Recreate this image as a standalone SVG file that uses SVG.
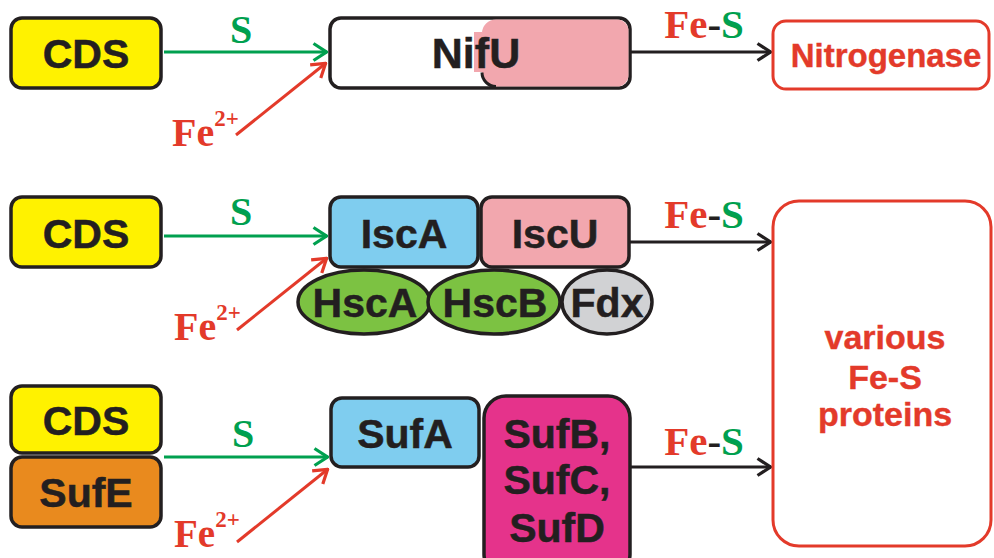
<svg xmlns="http://www.w3.org/2000/svg" width="994" height="558" viewBox="0 0 994 558">
<defs>
<style>
.box{stroke:#231f20;stroke-width:3.5}
.t{font-family:"Liberation Sans",Arial,sans-serif;font-weight:bold;fill:#231f20;stroke:#231f20;stroke-width:0.5;text-anchor:middle}
.rt{font-family:"Liberation Sans",Arial,sans-serif;font-weight:bold;fill:#e33a2a;stroke:#e33a2a;stroke-width:0.4;text-anchor:middle}
.lab{font-family:"Liberation Serif","Times New Roman",serif;font-weight:bold}
.g{fill:#00a04f}.r{fill:#e33a2a}.k{fill:#231f20}
.cg{stroke:#00a04f;stroke-width:3;fill:none}
.cr{stroke:#e33a2a;stroke-width:3;fill:none}
.ck{stroke:#231f20;stroke-width:3;fill:none}
</style>
<marker id="ag" viewBox="0 0 16 20" refX="15" refY="10" markerWidth="16" markerHeight="20" markerUnits="userSpaceOnUse" orient="auto"><path d="M1.5,1.5 L14.5,10 L1.5,18.5" fill="none" stroke="#00a04f" stroke-width="3.2"/></marker>
<marker id="ar" viewBox="0 0 16 20" refX="15" refY="10" markerWidth="16" markerHeight="20" markerUnits="userSpaceOnUse" orient="auto"><path d="M1.5,1.5 L14.5,10 L1.5,18.5" fill="none" stroke="#e33a2a" stroke-width="3.2"/></marker>
<marker id="ak" viewBox="0 0 16 20" refX="15" refY="10" markerWidth="16" markerHeight="20" markerUnits="userSpaceOnUse" orient="auto"><path d="M1.5,1.5 L14.5,10 L1.5,18.5" fill="none" stroke="#231f20" stroke-width="3.2"/></marker>
</defs>
<rect width="994" height="558" fill="#fff"/>

<g id="connectors">
<line class="cg" x1="164" y1="52" x2="327" y2="52" marker-end="url(#ag)"/>
<line class="cr" x1="236" y1="135" x2="326" y2="63" marker-end="url(#ar)"/>
<line class="ck" x1="630" y1="52" x2="771" y2="52" marker-end="url(#ak)"/>
<line class="cg" x1="164" y1="236" x2="327" y2="236" marker-end="url(#ag)"/>
<line class="cr" x1="237" y1="330" x2="327" y2="258" marker-end="url(#ar)"/>
<line class="ck" x1="630" y1="242" x2="771" y2="242" marker-end="url(#ak)"/>
<line class="cg" x1="164" y1="457" x2="328" y2="457" marker-end="url(#ag)"/>
<line class="cr" x1="237" y1="542" x2="328" y2="469" marker-end="url(#ar)"/>
<line class="ck" x1="630" y1="467" x2="771" y2="467" marker-end="url(#ak)"/>
</g>

<g id="labels">
<text class="lab g" x="241" y="43" font-size="40" text-anchor="middle">S</text>
<text class="lab r" x="172" y="146" font-size="40">Fe<tspan font-size="23" dy="-20">2+</tspan></text>
<text class="lab" x="704" y="38" font-size="41" text-anchor="middle"><tspan class="r">Fe</tspan><tspan class="k">-</tspan><tspan class="g">S</tspan></text>
<text class="lab g" x="241" y="225" font-size="40" text-anchor="middle">S</text>
<text class="lab r" x="174" y="340" font-size="40">Fe<tspan font-size="23" dy="-20">2+</tspan></text>
<text class="lab" x="704" y="228" font-size="41" text-anchor="middle"><tspan class="r">Fe</tspan><tspan class="k">-</tspan><tspan class="g">S</tspan></text>
<text class="lab g" x="243" y="447" font-size="40" text-anchor="middle">S</text>
<text class="lab r" x="174" y="547" font-size="39">Fe<tspan font-size="23" dy="-20">2+</tspan></text>
<text class="lab" x="704" y="455" font-size="41" text-anchor="middle"><tspan class="r">Fe</tspan><tspan class="k">-</tspan><tspan class="g">S</tspan></text>
</g>

<g id="cds1"><rect class="box" x="11" y="18" width="150" height="70" rx="11" fill="#fff200"/><text class="t" x="86" y="68" font-size="41">CDS</text></g>
<g id="nifu">
<rect class="box" x="330" y="18" width="300" height="70" rx="11" fill="#fff"/>
<path d="M496,19.5 H617 a11.5,11.5 0 0 1 11.5,11.5 V75 a11.5,11.5 0 0 1 -11.5,11.5 H496 a14,14 0 0 1 -14,-14 V33.5 a14,14 0 0 1 14,-14 Z" fill="#f2a7ae"/>
<path d="M496,86.5 a14,14 0 0 1 -14,-14" fill="none" stroke="#231f20" stroke-width="3"/>
<rect x="474" y="32" width="8" height="40" fill="#f2a7ae"/>
<text class="t" x="476" y="68" font-size="43">NifU</text>
</g>
<g id="nitrogenase"><rect x="773" y="21" width="216" height="68" rx="13" fill="#fff" stroke="#e33a2a" stroke-width="3"/><text class="rt" x="886" y="67" font-size="33">Nitrogenase</text></g>

<g id="cds2"><rect class="box" x="11" y="197" width="150" height="70" rx="11" fill="#fff200"/><text class="t" x="86" y="248" font-size="41">CDS</text></g>
<g id="hsca"><ellipse class="box" cx="364" cy="302" rx="66" ry="32" fill="#7cc242" stroke-width="2.5"/><text class="t" x="365" y="317" font-size="41">HscA</text></g>
<g id="hscb"><ellipse class="box" cx="494" cy="302" rx="66" ry="32" fill="#7cc242" stroke-width="2.5"/><text class="t" x="495" y="317" font-size="41">HscB</text></g>
<g id="fdx"><ellipse class="box" cx="607" cy="302" rx="45" ry="32" fill="#d1d2d4" stroke-width="2.5"/><text class="t" x="607" y="317" font-size="41">Fdx</text></g>
<g id="isca"><rect class="box" x="330" y="197" width="148" height="70" rx="11" fill="#7fcdef"/><text class="t" x="404" y="248" font-size="41">IscA</text></g>
<g id="iscu"><rect class="box" x="481" y="197" width="148" height="70" rx="11" fill="#f2a7ae"/><text class="t" x="555" y="248" font-size="41">IscU</text></g>
<g id="various"><rect x="773" y="201" width="218" height="345" rx="26" fill="#fff" stroke="#e33a2a" stroke-width="3"/><text class="rt" font-size="34"><tspan x="885" y="349">various</tspan><tspan x="885" y="389">Fe-S</tspan><tspan x="885" y="426">proteins</tspan></text></g>

<g id="cds3"><rect class="box" x="11" y="386" width="150" height="67" rx="11" fill="#fff200"/><text class="t" x="86" y="435" font-size="41">CDS</text></g>
<g id="sufe"><rect class="box" x="11" y="457" width="150" height="70" rx="11" fill="#e98a1e"/><text class="t" x="86" y="507" font-size="41">SufE</text></g>
<g id="sufa"><rect class="box" x="331" y="398" width="148" height="69" rx="11" fill="#7fcdef"/><text class="t" x="405" y="448" font-size="41">SufA</text></g>
<g id="sufbcd"><rect class="box" x="484" y="396" width="146" height="180" rx="22" fill="#e5338b"/><text class="t" font-size="41"><tspan x="557" y="448">SufB,</tspan><tspan x="557" y="494">SufC,</tspan><tspan x="557" y="542">SufD</tspan></text></g>
</svg>
